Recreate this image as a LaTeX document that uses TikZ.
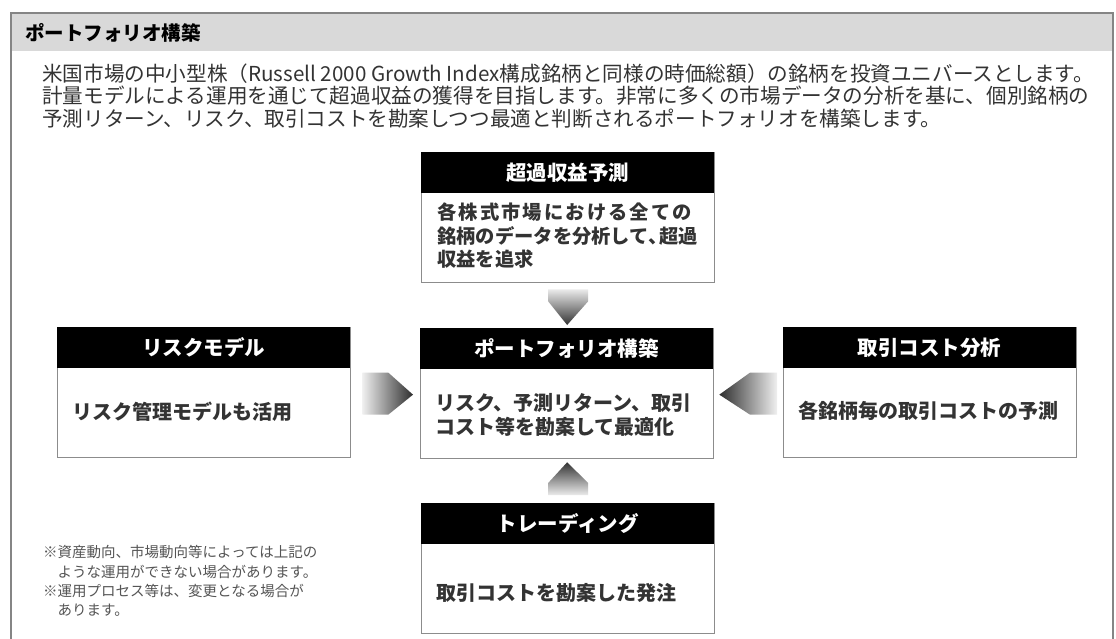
\documentclass[tikz,border=0pt]{standalone}
\usepackage{fontspec}
\setmainfont{Noto Sans CJK JP}
\usetikzlibrary{calc}
\definecolor{txt}{HTML}{333333}
\definecolor{note}{HTML}{555555}
\definecolor{band}{HTML}{D9D9D9}
\definecolor{framecol}{HTML}{858585}
\definecolor{boxline}{HTML}{8C8C8C}
\newcommand{\hcomma}{\makebox[0.55em][l]{、}}
\begin{document}
\begin{tikzpicture}[x=1pt,y=-1pt,
  boxbody/.style={draw=boxline, line width=1.3pt, fill=white, minimum width=293pt, minimum height=130pt, inner sep=0pt, anchor=north west},
  boxhead/.style={fill=black, minimum width=293pt, minimum height=41pt, inner sep=0pt, anchor=north west, text=white, font=\fontsize{20.5}{24}\selectfont\bfseries},
  bodytext/.style={text=txt, font=\fontsize{20}{24}\selectfont\bfseries, align=left, inner sep=0pt, anchor=west},
  paratext/.style={text=txt, font=\fontsize{20.6}{22.3}\selectfont, align=left, inner sep=0pt, anchor=west},
  notetext/.style={text=note, font=\fontsize{14.5}{19.2}\selectfont, align=left, inner sep=0pt, anchor=west},
]
\useasboundingbox (0,0) rectangle (1116,639);
\fill[white] (0,0) rectangle (1116,639);
% frame and header band
\fill[band] (11,13) rectangle (1113,51);
\draw[framecol, line width=2pt] (11,639) -- (11,13) -- (1113,13) -- (1113,639);
\node[anchor=west, inner sep=0pt, font=\fontsize{19.5}{22}\selectfont\bfseries] (title) at (25,33) {ポートフォリオ構築};
% paragraph
\node[paratext] (para) at (42,96) {米国市場の中小型株（Russell 2000 Growth Index構成銘柄と同様の時価総額）の銘柄を投資ユニバースとします。\\
計量モデルによる運用を通じて超過収益の獲得を目指します。非常に多くの市場データの分析を基に、個別銘柄の\\
予測リターン、リスク、取引コストを勘案しつつ最適と判断されるポートフォリオを構築します。};
% boxes
\node[boxbody] (topbox) at (421,152) {};
\node[boxhead] (tophead) at (421,152) {超過収益予測};
\node[bodytext, font=\fontsize{19.3}{23.5}\selectfont\bfseries] (toptext) at (437,236) {{\addfontfeature{LetterSpace=11}各株式市場における全ての}\\銘柄のデータを分析して\hcomma 超過\\収益を追求};

\node[boxbody] (cbox) at (420,328) {};
\node[boxhead] (chead) at (420,328) {ポートフォリオ構築};
\node[bodytext] (ctext) at (435,415) {リスク、予測リターン、取引\\コスト等を勘案して最適化};

\node[boxbody] (lbox) at (57,327) {};
\node[boxhead] (lhead) at (57,327) {リスクモデル};
\node[bodytext] (ltext) at (72,412) {リスク管理モデルも活用};

\node[boxbody] (rbox) at (783,327) {};
\node[boxhead] (rhead) at (783,327) {取引コスト分析};
\node[bodytext] (rtext) at (798,411) {各銘柄毎の取引コストの予測};

\node[boxbody] (bbox) at (421,503) {};
\node[boxhead] (bhead) at (421,503) {トレーディング};
\node[bodytext] (btext) at (436,593) {取引コストを勘案した発注};

% notes
\node[notetext] (notes) at (43,581) {※資産動向、市場動向等によっては上記の\\
\hspace*{1em}ような運用ができない場合があります。\\
※運用プロセス等は、変更となる場合が\\
\hspace*{1em}あります。};

% arrows
\shade[top color=black!8, bottom color=black!80]
  ($(topbox.south)+(-20,6)$) -- ($(topbox.south)+(20,6)$) -- ($(topbox.south)+(20,18)$)
  -- ($(cbox.north)+(0,-3)$) -- ($(topbox.south)+(-20,18)$) -- cycle;
\shade[left color=black!6, right color=black!82]
  ($(lbox.east)+(11,-20)$) -- ($(lbox.east)+(37,-20)$) -- ($(cbox.west)+(-7,1)$)
  -- ($(lbox.east)+(37,22)$) -- ($(lbox.east)+(11,22)$) -- cycle;
\shade[left color=black!82, right color=black!6]
  ($(rbox.west)+(-6,-20)$) -- ($(rbox.west)+(-33,-20)$) -- ($(cbox.east)+(5,1)$)
  -- ($(rbox.west)+(-33,22)$) -- ($(rbox.west)+(-6,22)$) -- cycle;
\shade[top color=black!80, bottom color=black!8]
  ($(bbox.north)+(-20,-8)$) -- ($(bbox.north)+(20,-8)$) -- ($(bbox.north)+(20,-20)$)
  -- ($(cbox.south)+(0,3)$) -- ($(bbox.north)+(-20,-20)$) -- cycle;
\end{tikzpicture}
\end{document}
